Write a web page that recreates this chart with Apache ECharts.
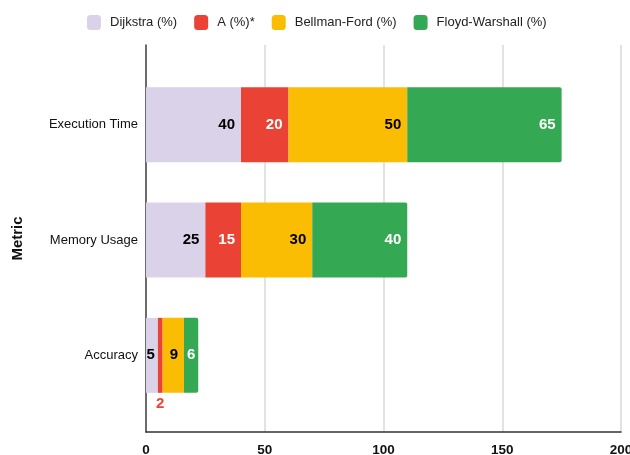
<!DOCTYPE html>
<html>
<head>
<meta charset="utf-8">
<script src="https://cdn.jsdelivr.net/npm/echarts@6/dist/echarts.min.js"></script>
<style>
  html, body { margin: 0; padding: 0; background: #fff; }
  #chart { width: 630px; height: 455px; }
</style>
</head>
<body>
<div id="chart"></div>
<script>
// Metric categories (top to bottom)
const metrics = ['Execution Time', 'Memory Usage', 'Accuracy'];

// Share of each algorithm per metric
const dijkstra = [40, 25, 5];
const aStar = [20, 15, 2];
const bellmanFord = [50, 30, 9];
const floydWarshall = [65, 40, 6];

const seriesNames = ['Dijkstra (%)', 'A (%)*', 'Bellman-Ford (%)', 'Floyd-Warshall (%)'];
const seriesColors = ['#d9d2e9', '#ea4335', '#fbbc04', '#34a853'];
const labelColors = ['#000000', '#ffffff', '#000000', '#ffffff'];

// Value-axis ticks
const xMin = 0, xMax = 200, xStep = 50;

const SANS = '"Liberation Sans", Arial, sans-serif';

const chart = echarts.init(document.getElementById('chart'));

function makeSeries(idx, values) {
  return {
    name: seriesNames[idx],
    type: 'bar',
    stack: 'total',
    xAxisIndex: 0,
    yAxisIndex: 0,
    barWidth: 75,
    itemStyle: {
      color: seriesColors[idx],
      borderRadius: idx === 3 ? [0, 2, 2, 0] : 0
    },
    label: {
      show: true,
      position: 'insideRight',
      distance: 6,
      color: labelColors[idx],
      fontFamily: SANS,
      fontWeight: 'bold',
      fontSize: 15
    },
    data: values.map(v => {
      // Slivers too thin to hold text get their label underneath in the bar colour
      if (v < 4) {
        return { value: v, label: { position: 'bottom', distance: 4, color: seriesColors[idx] } };
      }
      // Narrow segments keep their label tight against the segment end
      if (v <= 6) {
        return { value: v, label: { distance: 3 } };
      }
      return v;
    })
  };
}

chart.setOption({
  animation: false,
  legend: {
    top: 10,
    left: 82,
    icon: 'roundRect',
    itemWidth: 14,
    itemHeight: 15,
    itemGap: 17,
    textStyle: {
      fontFamily: SANS,
      fontSize: 13,
      color: '#222',
      padding: [0, 0, 0, 4]
    },
    data: seriesNames
  },
  grid: [
    // bars
    { left: 146, right: 9, top: 67, bottom: 42, outerBoundsMode: 'none' },
    // frame: gridlines and axes
    { left: 146, right: 9, top: 45, bottom: 23, outerBoundsMode: 'none' }
  ],
  xAxis: [
    {
      gridIndex: 0, type: 'value', min: xMin, max: xMax, interval: xStep,
      show: false
    },
    {
      gridIndex: 1, type: 'value', min: xMin, max: xMax, interval: xStep,
      axisLine: { show: true, lineStyle: { color: '#333', width: 1.5 } },
      axisTick: { show: false },
      splitLine: { show: true, lineStyle: { color: '#d9d9d9', width: 1.5 } },
      axisLabel: {
        margin: 11,
        color: '#111',
        fontFamily: SANS,
        fontWeight: 'bold',
        fontSize: 13.5
      }
    }
  ],
  yAxis: [
    {
      gridIndex: 0, type: 'category', inverse: true, data: metrics,
      axisLine: { show: false },
      axisTick: { show: false },
      axisLabel: {
        margin: 8,
        color: '#111',
        fontFamily: SANS,
        fontSize: 13
      }
    },
    {
      gridIndex: 1, type: 'category', inverse: true, data: metrics,
      name: 'Metric',
      nameLocation: 'middle',
      nameGap: 121,
      nameRotate: 90,
      nameTextStyle: {
        color: '#111',
        fontFamily: SANS,
        fontWeight: 'bold',
        fontSize: 15
      },
      axisLine: { show: true, lineStyle: { color: '#444', width: 1.5 } },
      axisTick: { show: false },
      axisLabel: { show: false },
      splitLine: { show: false }
    }
  ],
  series: [
    makeSeries(0, dijkstra),
    makeSeries(1, aStar),
    makeSeries(2, bellmanFord),
    makeSeries(3, floydWarshall)
  ]
});
</script>
</body>
</html>
